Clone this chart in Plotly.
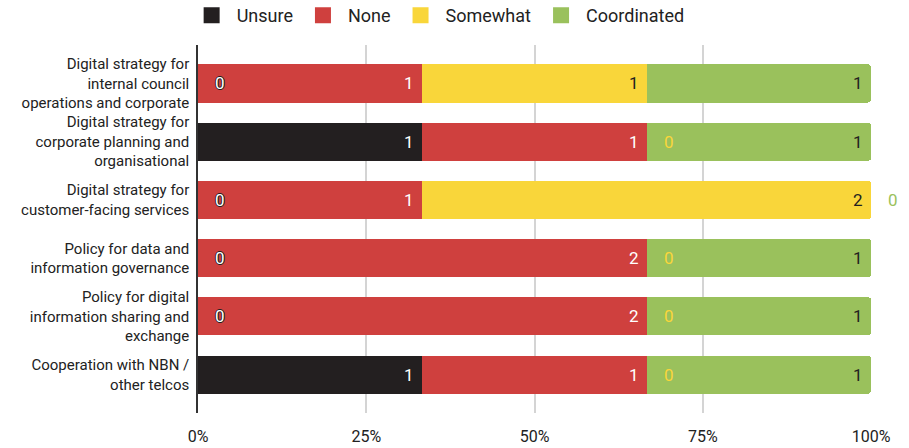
import plotly.graph_objects as go

categories = [
    "Digital strategy for<br>internal council<br>operations and corporate",
    "Digital strategy for<br>corporate planning and<br>organisational",
    "Digital strategy for<br>customer-facing services",
    "Policy for data and<br>information governance",
    "Policy for digital<br>information sharing and<br>exchange",
    "Cooperation with NBN /<br>other telcos",
]
series_names = ["Unsure", "None", "Somewhat", "Coordinated"]
unsure = [0, 1, 0, 0, 0, 1]
none_ = [1, 1, 1, 2, 2, 1]
somewhat = [1, 0, 2, 0, 0, 0]
coordinated = [1, 1, 0, 1, 1, 1]
tick_vals = [0, 25, 50, 75, 100]
tick_text = ["0%", "25%", "50%", "75%", "100%"]

colors = ["#231f20", "#cf403e", "#f9d63a", "#9ac15c"]
label_colors = ["#ffffff", "#ffffff", "#231f20", "#231f20"]
zero_colors = ["#ffffff", "#cf403e", "#f9d63a", "#9ac15c"]

series = [unsure, none_, somewhat, coordinated]
FONT = "Roboto"

fig = go.Figure()
for name, vals, col in zip(series_names, series, colors):
    fig.add_trace(go.Bar(
        y=categories, x=vals, name=name, orientation="h",
        marker=dict(color=col, line=dict(width=0)),
        hoverinfo="name+x", showlegend=False, legendgroup=name,
    ))
# legend entries (square swatches) for the same series
for name, col in zip(series_names, colors):
    fig.add_trace(go.Scatter(
        x=[None], y=[None], mode="markers", name=name, legendgroup=name,
        marker=dict(symbol="square", size=16, color=col, line=dict(width=0)),
        showlegend=True,
    ))

annotations = []
totals = [sum(s[i] for s in series) for i in range(len(categories))]
for i, cat in enumerate(categories):
    cum = 0
    for k, vals in enumerate(series):
        v = vals[i]
        start = cum / totals[i] * 100
        cum += v
        end = cum / totals[i] * 100
        if v > 0:
            annotations.append(dict(
                x=end, y=cat, xref="x", yref="y", text=str(v), showarrow=False,
                xanchor="right", xshift=-6,
                font=dict(family=FONT, size=17, color=label_colors[k]),
            ))
        else:
            f = dict(family=FONT, size=17, color=zero_colors[k])
            if k == 0:
                f["shadow"] = "1px 0 0 #231f20, -1px 0 0 #231f20, 0 1px 0 #231f20, 0 -1px 0 #231f20"
            annotations.append(dict(
                x=start, y=cat, xref="x", yref="y", text=str(v), showarrow=False,
                xanchor="center", xshift=22,
                font=f,
            ))

fig.update_layout(
    barmode="stack",
    barnorm="percent",
    bargap=0.345,
    barcornerradius=3,
    width=909, height=448,
    margin=dict(l=198, r=38, t=45, b=35, autoexpand=False),
    paper_bgcolor="white", plot_bgcolor="white",
    font=dict(family=FONT, size=15, color="#222222"),
    showlegend=True,
    legend=dict(
        orientation="h", xref="container", yref="paper",
        x=0.482, xanchor="center", y=1.13, yanchor="top",
        font=dict(family=FONT, size=18, color="#222222"),
        traceorder="normal", itemwidth=40,
    ),
    annotations=annotations,
    xaxis=dict(
        range=[0, 100], tickvals=tick_vals, ticktext=tick_text,
        showgrid=True, gridcolor="#d4d4d4", gridwidth=1.5,
        zeroline=False, showline=False, automargin=False,
        ticks="", ticklabelstandoff=12,
        tickfont=dict(family=FONT, size=16, color="#222222"),
        fixedrange=True,
    ),
    yaxis=dict(
        range=[5.66, -0.66], type="category",
        showgrid=False, zeroline=False, automargin=False,
        showline=True, linecolor="#333333", linewidth=1.5,
        ticks="", ticklabelstandoff=4,
        tickfont=dict(family=FONT, size=15, color="#222222"),
        fixedrange=True,
    ),
)

fig.write_html("out.html")
